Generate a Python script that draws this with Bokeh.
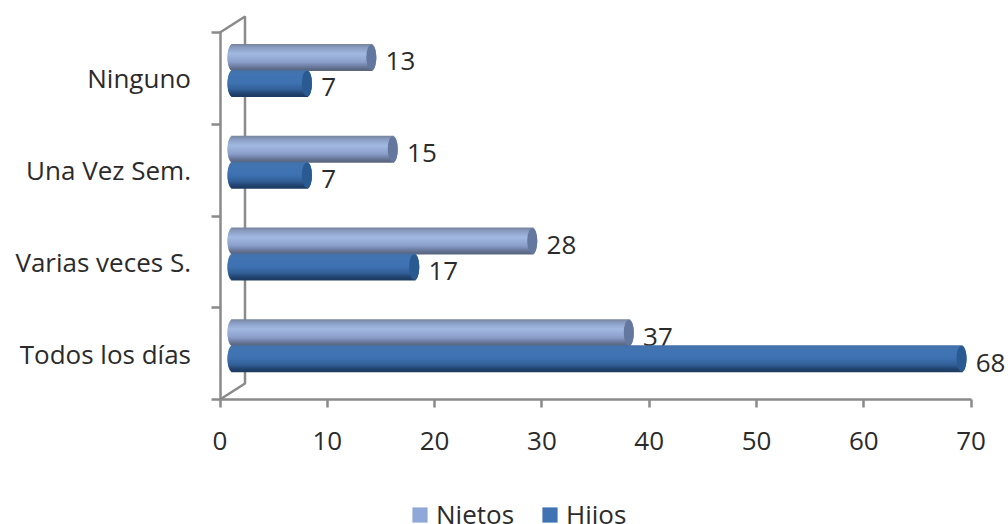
from bokeh.plotting import figure
from bokeh.models import (Range1d, FixedTicker, LinearAxis, Legend, LegendItem, ColumnDataSource)
from bokeh.core.properties import value
from bokeh.embed import file_html
from bokeh.resources import INLINE
import math

categories = ["Todos los días", "Varias veces S.", "Una Vez Sem.", "Ninguno"]
nietos = [37, 28, 15, 13]
hijos = [68, 17, 7, 7]
x_ticks = [0, 10, 20, 30, 40, 50, 60, 70]

FONT = "Open Sans"
TXT = "#2b2b2b"
AXC = "#8a8a8a"
W, H = 1008, 524
LEFT, BOTTOM_PX, TOP_AX = 219.5, 399.0, 32.0
PX_X = 10.73
PX_Y = (BOTTOM_PX - TOP_AX) / 4

p = figure(width=W, height=H, output_backend="svg", toolbar_location=None,
           x_axis_location=None, y_axis_location=None,
           x_range=Range1d(-LEFT / PX_X, (W - LEFT) / PX_X),
           y_range=Range1d(-(H - BOTTOM_PX) / PX_Y, BOTTOM_PX / PX_Y),
           min_border_left=0, min_border_right=0, min_border_top=0,
           min_border_bottom=0)
p.grid.visible = False
p.outline_line_color = None
p.background_fill_color = "white"

# side wall of the 3-D box
dx, dy = 25 / PX_X, 16 / PX_Y
p.line([0, dx, dx, 0], [0, dy, 4 + dy, 4], line_color=AXC, line_width=2.5)

# axes
xa = LinearAxis(ticker=FixedTicker(ticks=x_ticks), bounds=(0, 70), fixed_location=0)
xa.axis_line_color = AXC; xa.axis_line_width = 2.5
xa.major_tick_line_color = AXC; xa.major_tick_line_width = 2.5
xa.major_tick_out = 8; xa.major_tick_in = 0
xa.minor_tick_line_color = None
xa.major_label_text_font = FONT; xa.major_label_text_font_size = "26px"
xa.major_label_text_color = TXT; xa.major_label_standoff = 24
p.add_layout(xa, "below")

centers = [i + 0.5 for i in range(4)]
ya = LinearAxis(ticker=FixedTicker(ticks=centers, minor_ticks=[0, 1, 2, 3, 4]), bounds=(0, 4),
                fixed_location=0,
                major_label_overrides={c: n for c, n in zip(centers, categories)})
ya.axis_line_color = AXC; ya.axis_line_width = 2.5
ya.major_tick_line_color = None
ya.major_tick_out = 0; ya.major_tick_in = 0
ya.minor_tick_line_color = AXC; ya.minor_tick_line_width = 2.5
ya.minor_tick_out = 9; ya.minor_tick_in = 0
ya.major_label_text_font = FONT; ya.major_label_text_font_size = "26px"
ya.major_label_text_color = TXT; ya.major_label_standoff = 20
p.add_layout(ya, "left")

# cylinders
BAR = 26 / PX_Y
SHIFT = 8 / PX_Y
CAP = 5 / PX_X
X0 = 7.5 / PX_X
STRIPS = 26

def lerp(stops, t):
    for (t0, c0), (t1, c1) in zip(stops, stops[1:]):
        if t <= t1:
            f = (t - t0) / (t1 - t0)
            return "#%02x%02x%02x" % tuple(round(a + (b - a) * f) for a, b in zip(c0, c1))
    return "#%02x%02x%02x" % stops[-1][1]

NIE = [(0, (118, 130, 155)), (0.12, (135, 155, 192)), (0.38, (162, 186, 226)),
       (0.7, (138, 158, 202)), (0.88, (105, 120, 155)), (1, (90, 100, 125))]
HIJ = [(0, (70, 112, 165)), (0.15, (66, 116, 178)), (0.5, (62, 114, 178)),
       (0.75, (50, 95, 150)), (0.92, (32, 66, 110)), (1, (30, 58, 95))]

def cylinder(vals, off, stops, cap_col, base_col):
    cys = [i + 0.5 + SHIFT + off for i in range(4)]
    base = p.hbar(y=cys, left=X0 + CAP, right=[v + 1.1 for v in vals], height=BAR * 0.8,
                  fill_color=base_col, line_color=None)
    ys, ls, rs, cs, hh = [], [], [], [], []
    for cy, v in zip(cys, vals):
        for s in range(STRIPS):
            t = (s + 0.5) / STRIPS
            bow = 1 - math.sqrt(max(0, 1 - (2 * t - 1) ** 2))
            ys.append(cy + BAR / 2 - t * BAR)
            ls.append(X0 + bow * CAP)
            rs.append(v + 1.1 + (1 - bow) * CAP)
            cs.append(lerp(stops, t))
            hh.append(BAR / STRIPS * 2)
    p.hbar(y="y", left="l", right="r", height="h", fill_color="c", line_color=None,
           source=ColumnDataSource(dict(y=ys, l=ls, r=rs, c=cs, h=hh)))
    p.ellipse([v + 1.1 for v in vals], cys,
              width=2 * CAP, height=BAR * 0.98, fill_color=cap_col, line_color=None)
    return base

def labels(vals, off):
    p.text([v + 1.5 + 10 / PX_X for v in vals],
           [i + 0.5 + SHIFT + off - 4 / PX_Y for i in range(4)],
           text=[str(v) for v in vals], text_font=value(FONT), text_font_size="26px",
           text_color=TXT, text_align="left", text_baseline="middle")

labels(nietos, BAR / 2)
labels(hijos, -BAR / 2)
r1 = cylinder(nietos, BAR / 2, NIE, "#64779f", "#8fa8d8")
r2 = cylinder(hijos, -BAR / 2, HIJ, "#2a5a92", "#3f73b4")

# legend
leg = Legend(items=[LegendItem(label="Nietos", renderers=[r1]), LegendItem(label="Hijos", renderers=[r2])],
             location=(410, -8), orientation="horizontal", border_line_color=None,
             background_fill_alpha=0, glyph_width=19, glyph_height=19, padding=0, margin=0,
             spacing=26, label_standoff=7, label_text_font=FONT, label_text_font_size="26px",
             label_text_color=TXT)
p.add_layout(leg, "center")

open("out.html", "w").write(file_html(p, INLINE))
